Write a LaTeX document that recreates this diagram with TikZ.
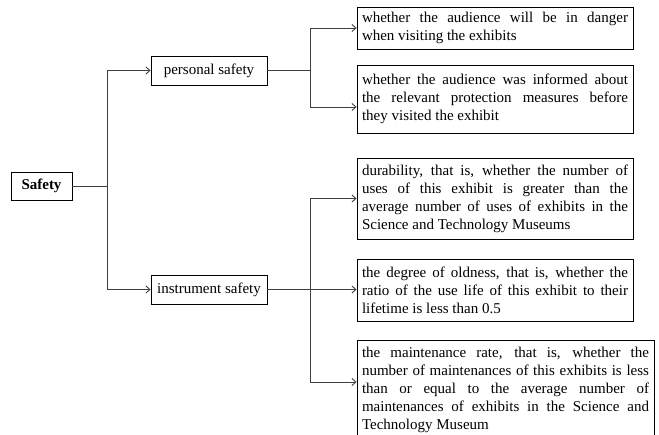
\documentclass[tikz,border=0pt]{standalone}
\usepackage{fontspec}
\setmainfont{Liberation Serif}
\usetikzlibrary{arrows.meta}

\begin{document}
\begin{tikzpicture}[x=1pt,y=-1pt,
  txt/.style={font=\fontsize{15}{18}\selectfont},
  headbox/.style={draw=black, line width=0.8pt, txt, inner sep=0pt,
    minimum width=116pt, minimum height=29pt},
  rootbox/.style={draw=black, line width=0.8pt, txt, font=\fontsize{15}{18}\selectfont\bfseries,
    inner sep=0pt, minimum width=61pt, minimum height=28pt},
  leafbox/.style={draw=black, line width=0.8pt, txt, align=justify,
    text width=266pt, inner xsep=5pt, inner ysep=2pt,
    execute at begin node={\tolerance=10000\hyphenpenalty=10000\emergencystretch=20pt}},
  link/.style={draw=black!75, line width=0.9pt},
  arr/.style={link, -{Straight Barb[length=4pt,width=7pt]}}
]
\useasboundingbox (0,0) rectangle (659,435);

% root and second level
\node[rootbox] (safety) at (41.5,186) {Safety};
\node[headbox] (ps) at (209,70.5) {personal safety};
\node[headbox] (is) at (209,289.5) {instrument safety};

% leaves
\node[leafbox, minimum height=42pt] (b1) at (495,28)
  {whether the audience will be in danger\linebreak when visiting the exhibits};
\node[leafbox, minimum height=68pt] (b2) at (495,99)
  {whether the audience was informed about\linebreak the relevant protection measures before\linebreak they visited the exhibit};
\node[leafbox, minimum height=81pt] (b3) at (495,198.5)
  {durability, that is, whether the number of\linebreak uses of this exhibit is greater than the\linebreak average number of uses of exhibits in the\linebreak Science and Technology Museums};
\node[leafbox, minimum height=62pt] (b4) at (495,290)
  {the degree of oldness, that is, whether the\linebreak ratio of the use life of this exhibit to their\linebreak lifetime is less than 0.5};
\node[leafbox, text width=287pt, minimum height=100pt] (b5) at (505.5,390)
  {the maintenance rate, that is, whether the\linebreak number of maintenances of this exhibits is less\linebreak than or equal to the average number of\linebreak maintenances of exhibits in the Science and\linebreak Technology Museum};

% junction points
\coordinate (j0) at (107,186);
\coordinate (j1) at (310,70.5);
\coordinate (j2) at (310,289.5);

% connectors
\draw[link] (safety.east) -- (j0);
\draw[arr] (j0) |- (ps.west);
\draw[arr] (j0) |- (is.west);

\draw[link] (ps.east) -- (j1);
\draw[arr] (j1) |- (b1.west);
\draw[arr] (j1) |- ([yshift=-8pt]b2.west);

\draw[arr] (is.east) -- (is.east -| b4.west);
\draw[arr] (j2) |- (b3.west);
\draw[arr] (j2) |- ([yshift=8pt]b5.west);
\end{tikzpicture}
\end{document}
